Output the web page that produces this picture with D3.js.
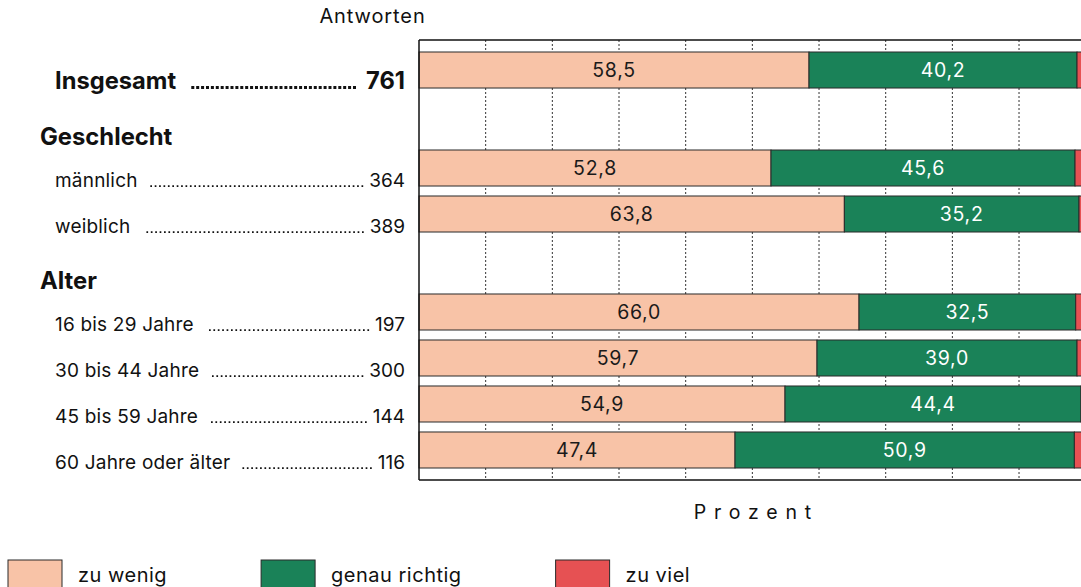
<!DOCTYPE html>
<html><head><meta charset="utf-8">
<script src="https://cdn.jsdelivr.net/npm/d3@7"></script>
<style>
html,body{margin:0;padding:0;background:#fff;overflow:hidden}
svg{display:block}
text{font-family:Inter,"Liberation Sans",Arial,sans-serif;fill:#111}
</style></head><body>
<svg id="c" width="1081" height="587"></svg>
<script>
const categories = ["Insgesamt","männlich","weiblich","16 bis 29 Jahre","30 bis 44 Jahre","45 bis 59 Jahre","60 Jahre oder älter"];
const groupIndex = [0,1,1,2,2,2,2];
const groupHeaders = ["", "Geschlecht", "Alter"];
const counts = [761,364,389,197,300,144,116];
const zuWenig = [58.5,52.8,63.8,66.0,59.7,54.9,47.4];
const genauRichtig = [40.2,45.6,35.2,32.5,39.0,44.4,50.9];
const zuViel = [1.3,1.6,1.0,1.5,1.3,0.7,1.7];
const seriesNames = ["zu wenig","genau richtig","zu viel"];
const colors = ["#F8C3A7","#1A8258","#E65153"];
const textColors = ["#1a1a1a","#ffffff",null];
const gridTicks = [10,20,30,40,50,60,70,80,90,100];

const svg = d3.select("#c");
const x = d3.scaleLinear().domain([0,100]).range([419, 1085.7]);
const yBand = d3.scaleBand().domain(categories).range([47, 47+322]).paddingInner(0.217).paddingOuter(0.1087);
const groupGap = 52;
const yTop = (c,i) => yBand(c) + groupIndex[i]*groupGap;
const bh = yBand.bandwidth();
const fmt = v => d3.format(".1f")(v).replace(".", ",");

// gridlines
svg.append("g").selectAll("line").data(gridTicks).join("line")
  .attr("x1", d=>x(d)).attr("x2", d=>x(d)).attr("y1", 40).attr("y2", 480)
  .attr("stroke","#333").attr("stroke-width",1).attr("stroke-dasharray","2,2");

// stacked bars
const rows = categories.map((c,i)=>({c,i,vals:[zuWenig[i],genauRichtig[i],zuViel[i]]}));
const segs = [];
rows.forEach(r=>{ let acc=0; r.vals.forEach((v,k)=>{ segs.push({r,k,v,x0:acc,x1:acc+v}); acc+=v; }); });
svg.append("g").selectAll("rect").data(segs).join("rect")
  .attr("x", d=>x(d.x0)).attr("width", d=>x(d.x1)-x(d.x0))
  .attr("y", d=>yTop(d.r.c,d.r.i)).attr("height", bh)
  .attr("fill", d=>colors[d.k]).attr("stroke","#2a2a2a").attr("stroke-width",1);
svg.append("g").selectAll("text").data(segs.filter(d=>textColors[d.k])).join("text")
  .attr("x", d=>(x(d.x0)+x(d.x1))/2).attr("y", d=>yTop(d.r.c,d.r.i)+bh/2+7)
  .attr("text-anchor","middle").style("font-size","19.5px").style("letter-spacing","0.7px").style("fill", d=>textColors[d.k])
  .text(d=>fmt(d.v));

// frame
const fr = svg.append("g").attr("stroke","#111").attr("stroke-width",1.5);
fr.append("line").attr("x1",x(0)).attr("x2",x(100)).attr("y1",40).attr("y2",40);
fr.append("line").attr("x1",x(0)).attr("x2",x(100)).attr("y1",480).attr("y2",480);
fr.append("line").attr("x1",x(0)).attr("x2",x(0)).attr("y1",40).attr("y2",480);
fr.append("line").attr("x1",x(100)).attr("x2",x(100)).attr("y1",40).attr("y2",480);

// header texts
svg.append("text").attr("x",372.5).attr("y",23).attr("text-anchor","middle").style("font-size","20px").style("letter-spacing","0.9px").text("Antworten");
svg.append("text").attr("x",x(50)+4).attr("y",519).attr("text-anchor","middle").style("font-size","19.5px").style("letter-spacing","7.8px").text("Prozent");

// group headers
const firstInGroup = {};
categories.forEach((c,i)=>{ if(!(groupIndex[i] in firstInGroup)) firstInGroup[groupIndex[i]] = i; });
groupHeaders.forEach((h,g)=>{
  if(!h) return;
  const i = firstInGroup[g];
  svg.append("text").attr("x",40).attr("y", yTop(categories[i],i)-5).style("font-size","23.8px").style("font-weight","700").text(h);
});

// row labels with leaders
rows.forEach(r=>{
  const bold = r.i===0;
  const base = yTop(r.c,r.i)+bh+1;
  const fs = bold ? "23.7px" : "19px";
  const ls = bold ? "0px" : "0.2px";
  const lab = svg.append("text").attr("x",55).attr("y",base).style("font-size",fs).style("letter-spacing",ls).style("font-weight",bold?700:400).text(r.c);
  const num = svg.append("text").attr("x",405).attr("y",base).attr("text-anchor","end").style("font-size",fs).style("font-weight",bold?700:400).text(counts[r.i]);
  const lEnd = 55 + lab.node().getComputedTextLength();
  const nStart = 405 - num.node().getComputedTextLength();
  const ds = bold ? 3 : 1.7, sp = bold ? 4.9 : 4.4;
  const start = lEnd + (bold ? 13 : 9), end = nStart - (bold ? 10 : 6);
  const n = Math.floor((end-start)/sp);
  svg.append("line").attr("x1",end - n*sp + (sp-ds)).attr("x2",end).attr("y1",base-ds/2).attr("y2",base-ds/2)
    .attr("stroke","#111").attr("stroke-width",ds).attr("stroke-dasharray",`${ds},${sp-ds}`);
});

// legend
let lx = 8;
seriesNames.forEach((s,k)=>{
  svg.append("rect").attr("x",lx).attr("y",560).attr("width",54).attr("height",28).attr("fill",colors[k]).attr("stroke","#2a2a2a").attr("stroke-width",1);
  const t = svg.append("text").attr("x",lx+70).attr("y",582).style("font-size","20px").style("letter-spacing","0.5px").text(s);
  lx = lx + 70 + t.node().getComputedTextLength() + 94;
});
</script></body></html>
